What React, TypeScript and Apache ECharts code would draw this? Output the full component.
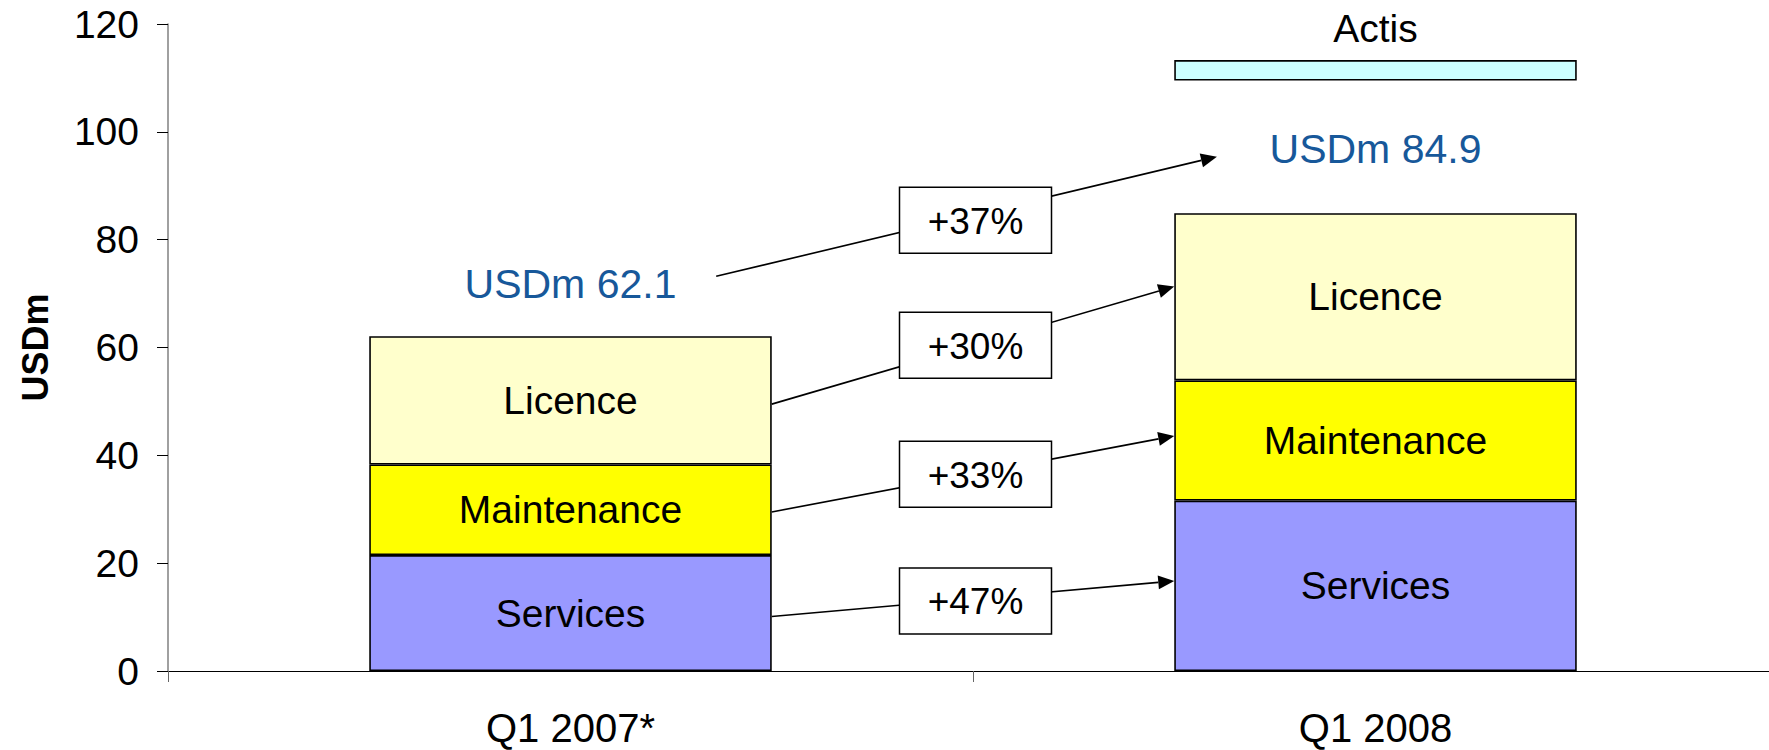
import React, { useEffect, useRef } from "react";
import * as echarts from "echarts";

const categories = ["Q1 2007*", "Q1 2008"];
const services = [21.5, 31.6];
const maintenance = [16.8, 22.3];
const licence = [23.8, 31.0];
const totalLabels = ["USDm 62.1", "USDm 84.9"];
const totalLabelY = [71.8, 96.9];
const actisLow = 109.5;
const actisHigh = 113.3;
const yTicks = [0, 20, 40, 60, 80, 100, 120];

const growthLabels = ["+37%", "+30%", "+33%", "+47%"];
const growthBoxY = [83.6, 60.4, 36.5, 13.0];
const arrowFromY = [73.2, 49.5, 29.5, 10.1];
const arrowToY = [95.4, 71.3, 43.6, 16.7];
const arrowFromOffset = [0.181, 0.25, 0.25, 0.25];
const arrowToOffset = [-0.197, -0.25, -0.25, -0.25];

const FONT = "'Liberation Sans', Arial, sans-serif";

export default function App() {
  const ref = useRef<HTMLDivElement>(null);
  useEffect(() => {
    document.body.style.margin = "0";
    if (!ref.current) return;
    const chart = echarts.init(ref.current, null, { renderer: "svg" });
    const stackTop = services.map((s, i) => s + maintenance[i] + licence[i]);
    const spacer = stackTop.map((t, i) => (i === 1 ? actisLow - t : "-"));
    const actis = categories.map((_, i) => (i === 1 ? actisHigh - actisLow : "-"));
    const border = { borderColor: "#000", borderWidth: 1.6 };
    const segLabel = (text: string) => ({
      show: true,
      position: "inside",
      formatter: text,
      color: "#000",
      fontSize: 39,
      fontFamily: FONT,
    });
    chart.setOption({
      animation: false,
      grid: { left: 168, right: 12, top: 24, bottom: 79 },
      xAxis: {
        type: "category",
        data: categories,
        axisLine: { lineStyle: { color: "#000", width: 1 } },
        axisTick: { show: true, length: 11, lineStyle: { color: "#666" } },
        axisLabel: { color: "#000", fontSize: 40, fontFamily: FONT, margin: 37 },
      },
      yAxis: {
        type: "value",
        min: yTicks[0],
        max: yTicks[yTicks.length - 1],
        interval: 20,
        name: "USDm",
        nameLocation: "middle",
        nameRotate: 90,
        nameGap: 115,
        nameTextStyle: { fontSize: 36, fontWeight: "bold", fontFamily: FONT, color: "#000" },
        axisLine: { show: true, lineStyle: { color: "#808080", width: 1.5 } },
        axisTick: { show: true, length: 11, lineStyle: { color: "#000" } },
        axisLabel: { color: "#000", fontSize: 39, fontFamily: FONT, margin: 29 },
        splitLine: { show: false },
      },
      series: [
        {
          name: "Services",
          type: "bar",
          stack: "total",
          barWidth: "50%",
          data: services,
          itemStyle: { color: "#9999FF", ...border },
          label: segLabel("Services"),
        },
        {
          name: "Maintenance",
          type: "bar",
          stack: "total",
          data: maintenance,
          itemStyle: { color: "#FFFF00", ...border },
          label: segLabel("Maintenance"),
        },
        {
          name: "Licence",
          type: "bar",
          stack: "total",
          data: licence,
          itemStyle: { color: "#FFFFCC", ...border },
          label: segLabel("Licence"),
        },
        {
          name: "spacer",
          type: "bar",
          stack: "total",
          data: spacer,
          itemStyle: { color: "transparent", borderWidth: 0 },
          silent: true,
        },
        {
          name: "Actis",
          type: "bar",
          stack: "total",
          data: actis,
          itemStyle: { color: "#CCFFFF", ...border },
          label: {
            show: true,
            position: "top",
            distance: 12,
            formatter: "Actis",
            color: "#000",
            fontSize: 39,
            fontFamily: FONT,
          },
        },
      ],
    });

    const px = (cat: number, val: number) =>
      chart.convertToPixel({ xAxisIndex: 0, yAxisIndex: 0 }, [cat, val]) as number[];
    const c0 = px(0, 0);
    const c1 = px(1, 0);
    const band = c1[0] - c0[0];

    const graphics: any[] = [];
    totalLabels.forEach((t, i) => {
      const p = px(i, totalLabelY[i]);
      graphics.push({
        type: "text",
        x: p[0],
        y: p[1],
        z: 20,
        style: {
          text: t,
          fill: "#17589A",
          fontSize: 41,
          fontFamily: FONT,
          align: "center",
          verticalAlign: "middle",
        },
      });
    });
    growthLabels.forEach((lab, i) => {
      const a = px(0, arrowFromY[i]);
      const b = px(1, arrowToY[i]);
      const x1 = c0[0] + arrowFromOffset[i] * band;
      const y1 = a[1];
      const x2 = c1[0] + arrowToOffset[i] * band;
      const y2 = b[1];
      const dx = x2 - x1;
      const dy = y2 - y1;
      const len = Math.sqrt(dx * dx + dy * dy);
      const ux = dx / len;
      const uy = dy / len;
      const L = 16;
      const W = 7;
      const bx = x2 - ux * L;
      const by = y2 - uy * L;
      graphics.push({
        type: "line",
        z: 10,
        shape: { x1, y1, x2: bx, y2: by },
        style: { stroke: "#000", lineWidth: 1.6 },
      });
      graphics.push({
        type: "polygon",
        z: 10,
        shape: {
          points: [
            [x2, y2],
            [bx - uy * W, by + ux * W],
            [bx + uy * W, by - ux * W],
          ],
        },
        style: { fill: "#000" },
      });
      const cx = (c0[0] + c1[0]) / 2 + 2.5;
      const cy = px(0, growthBoxY[i])[1];
      graphics.push({
        type: "rect",
        z: 15,
        shape: { x: cx - 76, y: cy - 33, width: 152, height: 66 },
        style: { fill: "#fff", stroke: "#000", lineWidth: 1.5 },
      });
      graphics.push({
        type: "text",
        z: 16,
        x: cx,
        y: cy + 1,
        style: {
          text: lab,
          fill: "#000",
          fontSize: 37,
          fontFamily: FONT,
          align: "center",
          verticalAlign: "middle",
        },
      });
    });
    chart.setOption({ graphic: graphics });

    return () => chart.dispose();
  }, []);
  return (
    <div style={{ width: 1769, height: 750, overflow: "hidden", position: "relative" }}>
      <div ref={ref} style={{ width: 1790, height: 750 }} />
    </div>
  );
}
